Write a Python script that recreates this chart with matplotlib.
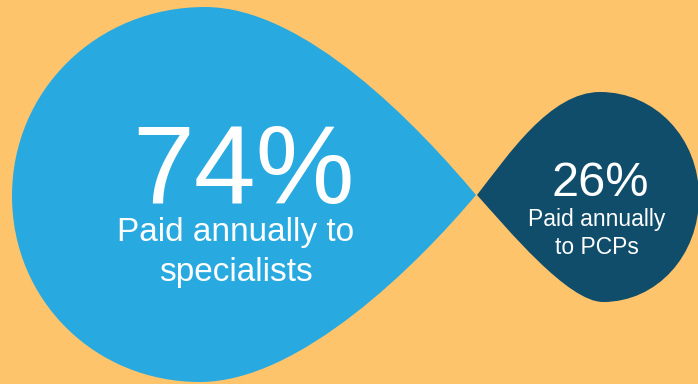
import numpy as np
import matplotlib
matplotlib.use("Agg")
import matplotlib.pyplot as plt
from matplotlib.path import Path
from matplotlib.patches import PathPatch

# ---- data ----
shares = [74, 26]
descriptions = ["Paid annually to\nspecialists", "Paid annually\nto PCPs"]

# ---- style / layout ----
bg_color = "#FEC46C"
drop_colors = ["#28AAE1", "#0F4D6B"]
text_color = "white"
font = ["Liberation Sans", "DejaVu Sans"]

# teardrop geometry in pixel space (x right, y down)
drops = [
    dict(tip=(476, 195), top=(205, 7), far=(12, 196), bottom=(200, 382),
         ang_top=50, a_top=90, b_top=100, ang_bot=50, a_bot=90, b_bot=100),
    dict(tip=(477, 195), top=(600, 92), far=(699, 197), bottom=(603, 302),
         ang_top=52, a_top=50, b_top=50, ang_bot=48, a_bot=45, b_bot=35),
]
value_style = [dict(x=243, y=203, size=80), dict(x=600, y=196, size=35)]
desc_style = [dict(x=236, y=241, size=24, spacing=1.2),
              dict(x=597, y=226, size=16.5, spacing=1.22)]
KAPPA = 0.56


def drop_path(tip, top, far, bottom, ang_top, a_top, b_top, ang_bot, a_bot, b_bot):
    side = np.sign(far[0] - tip[0])
    at, ab = np.radians(ang_top), np.radians(ang_bot)
    verts = [tip,
             (tip[0] + side * a_top * np.cos(at), tip[1] - a_top * np.sin(at)),
             (top[0] - side * b_top, top[1]),
             top,
             (top[0] + side * KAPPA * abs(far[0] - top[0]), top[1]),
             (far[0], far[1] - KAPPA * (far[1] - top[1])),
             far,
             (far[0], far[1] + KAPPA * (bottom[1] - far[1])),
             (bottom[0] + side * KAPPA * abs(far[0] - bottom[0]), bottom[1]),
             bottom,
             (bottom[0] - side * b_bot, bottom[1]),
             (tip[0] + side * a_bot * np.cos(ab), tip[1] + a_bot * np.sin(ab)),
             tip,
             tip]
    codes = [Path.MOVETO] + [Path.CURVE4] * 12 + [Path.CLOSEPOLY]
    return Path(verts, codes)


W, H = 698, 384
fig = plt.figure(figsize=(W / 100, H / 100), dpi=100, facecolor=bg_color)
ax = fig.add_axes([0, 0, 1, 1])
ax.set_xlim(0, W)
ax.set_ylim(H, 0)
ax.set_facecolor(bg_color)
ax.axis("off")

for i, (val, desc) in enumerate(zip(shares, descriptions)):
    ax.add_patch(PathPatch(drop_path(**drops[i]), facecolor=drop_colors[i],
                           edgecolor="none", lw=0))
    vs = value_style[i]
    ax.text(vs["x"], vs["y"], f"{val}%", color=text_color, fontsize=vs["size"],
            family=font, ha="center", va="baseline")
    ds = desc_style[i]
    px_per_line = ds["size"] / 72 * 100 * ds["spacing"]
    for j, line in enumerate(desc.split("\n")):
        ax.text(ds["x"], ds["y"] + j * px_per_line, line, color=text_color,
                fontsize=ds["size"], family=font, ha="center", va="baseline")

fig.savefig("out.png", dpi=100, facecolor=bg_color)
